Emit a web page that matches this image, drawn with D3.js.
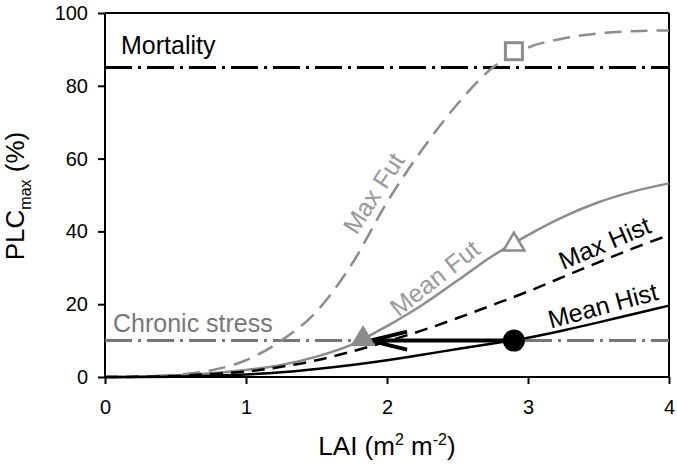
<!DOCTYPE html>
<html><head><meta charset="utf-8">
<script src="https://cdn.jsdelivr.net/npm/d3@7"></script>
<style>body{margin:0;background:#fff}text{font-family:"Liberation Sans",Arial,sans-serif}</style>
</head><body><svg id="c" width="677" height="465"></svg>
<script>
const lai = [0,0.25,0.5,0.75,1,1.25,1.5,1.75,2,2.25,2.5,2.75,3,3.25,3.5,3.75,4];
const maxFut  = [0,0.1,0.6,1.8,4.6,10,18,31,48,62.5,75,85,90.5,93,94.4,95,95.2];
const meanFut = [0,0.1,0.4,1,1.9,3.3,5.6,8.9,14,19.8,26.5,33.3,39,44,48,51,53.2];
const maxHist = [0,0.05,0.3,0.8,1.5,2.8,4.6,7,9.8,12.8,16.2,19.8,23.5,27.5,31.5,35.4,39];
const meanHist= [0,0.02,0.1,0.35,0.7,1.3,2.2,3.3,4.6,6.1,7.7,9.2,10.8,12.8,15,17.3,19.6];
const xTicks = [0,1,2,3,4];
const yTicks = [0,20,40,60,80,100];
const thresholds = [{name:"Mortality", v:85}, {name:"Chronic stress", v:10}];
const markers = {circle:[2.9,10], triFill:[1.83,10], triOpen:[2.9,37], square:[2.9,89.5]};
const arrow = {from:2.9, to:1.88, v:10};

const svg = d3.select("#c");
const L=105, R=669, T=13, B=377;
const x = d3.scaleLinear().domain([0,4]).range([L,R]);
const y = d3.scaleLinear().domain([0,100]).range([B,T]);
const gray="#8c8c8c", dgray="#777";

// frame
svg.append("line").attr("x1",L).attr("x2",R).attr("y1",T).attr("y2",T).attr("stroke","#000").attr("stroke-width",2);
svg.append("line").attr("x1",R).attr("x2",R).attr("y1",T).attr("y2",B).attr("stroke","#000").attr("stroke-width",2);

const xa = svg.append("g").attr("transform",`translate(0,${B})`)
  .call(d3.axisBottom(x).tickValues(xTicks).tickSize(7).tickPadding(16).tickFormat(d3.format("d")));
const ya = svg.append("g").attr("transform",`translate(${L},0)`)
  .call(d3.axisLeft(y).tickValues(yTicks).tickSize(7).tickPadding(10).tickFormat(d3.format("d")));
[xa,ya].forEach(a=>{a.select(".domain").attr("stroke-width",2).attr("stroke","#000");
  a.selectAll(".tick line").attr("stroke-width",2);
  a.selectAll("text").attr("font-size",20).attr("fill","#000").style("font-family","Liberation Sans, Arial");});
xa.select(".domain").attr("d",`M${L},0H${R}`);
ya.select(".domain").attr("d",`M0,${B}V${T}`);

// thresholds
svg.append("line").attr("x1",L).attr("x2",R).attr("y1",y(85)).attr("y2",y(85))
  .attr("stroke","#000").attr("stroke-width",3).attr("stroke-dasharray","27,6,3,6");
svg.append("line").attr("x1",L).attr("x2",R).attr("y1",y(10)).attr("y2",y(10))
  .attr("stroke",dgray).attr("stroke-width",3).attr("stroke-dasharray","27,6,3,6");

const line = d3.line().x(d=>x(d[0])).y(d=>y(d[1])).curve(d3.curveMonotoneX);
const path=(vals,stroke,dash,w)=>svg.append("path").attr("d",line(lai.map((l,i)=>[l,vals[i]])))
  .attr("fill","none").attr("stroke",stroke).attr("stroke-width",w).attr("stroke-dasharray",dash);
path(maxFut,gray,"17,9",2.5);
path(meanFut,gray,null,2.5);
path(maxHist,"#000","13,8",2.5);
path(meanHist,"#000",null,2.5);

// arrow
svg.append("line").attr("x1",x(arrow.from)).attr("x2",x(arrow.to)+2).attr("y1",y(arrow.v)).attr("y2",y(arrow.v))
  .attr("stroke","#000").attr("stroke-width",4);
const tx=x(arrow.to), ty=y(arrow.v);
svg.append("path").attr("d",`M${tx+37},${ty-9}L${tx},${ty}L${tx+37},${ty+9}`)
  .attr("fill","none").attr("stroke","#000").attr("stroke-width",4).attr("stroke-linejoin","miter");

// markers
svg.append("circle").attr("cx",x(markers.circle[0])).attr("cy",y(markers.circle[1])).attr("r",11).attr("fill","#000");
const tri=(cx,cy,w,h)=>`M${cx},${cy-h*0.6}L${cx+w/2},${cy+h*0.4}L${cx-w/2},${cy+h*0.4}Z`;
svg.append("path").attr("d",tri(x(markers.triFill[0]),y(markers.triFill[1])-3,25,21)).attr("fill",gray);
svg.append("path").attr("d",tri(x(markers.triOpen[0]),y(markers.triOpen[1])+1,21,18)).attr("fill","#fff").attr("stroke",gray).attr("stroke-width",2.5);
svg.append("rect").attr("x",x(markers.square[0])-8.5).attr("y",y(markers.square[1])-8.5).attr("width",17).attr("height",17)
  .attr("fill","#fff").attr("stroke",gray).attr("stroke-width",3);

// labels
const lab=(t,px,py,rot,fill)=>svg.append("text").attr("transform",`translate(${px},${py}) rotate(${rot})`)
  .attr("text-anchor","middle").attr("font-size",25).attr("fill",fill).text(t);
svg.append("text").attr("x",121).attr("y",54).attr("font-size",25).text(thresholds[0].name);
svg.append("text").attr("x",113).attr("y",332).attr("font-size",25).attr("fill",dgray).text(thresholds[1].name);
lab("Max Fut",381,198,-57,"#999");
lab("Mean Fut",440,285,-38,"#999");
lab("Max Hist",608,251,-23,"#000");
lab("Mean Hist",605,314,-15,"#000");

// axis titles
const xt=svg.append("text").attr("x",387).attr("y",455).attr("text-anchor","middle").attr("font-size",26);
xt.append("tspan").text("LAI (m");
xt.append("tspan").attr("dy",-10).attr("font-size",16).text("2");
xt.append("tspan").attr("dy",10).text(" m");
xt.append("tspan").attr("dy",-10).attr("font-size",16).text("-2");
xt.append("tspan").attr("dy",10).text(")");
const yt=svg.append("text").attr("transform","translate(24,196) rotate(-90)").attr("text-anchor","middle").attr("font-size",26);
yt.append("tspan").text("PLC");
yt.append("tspan").attr("dy",7).attr("font-size",16).text("max");
yt.append("tspan").attr("dy",-7).text(" (%)");
</script></body></html>
